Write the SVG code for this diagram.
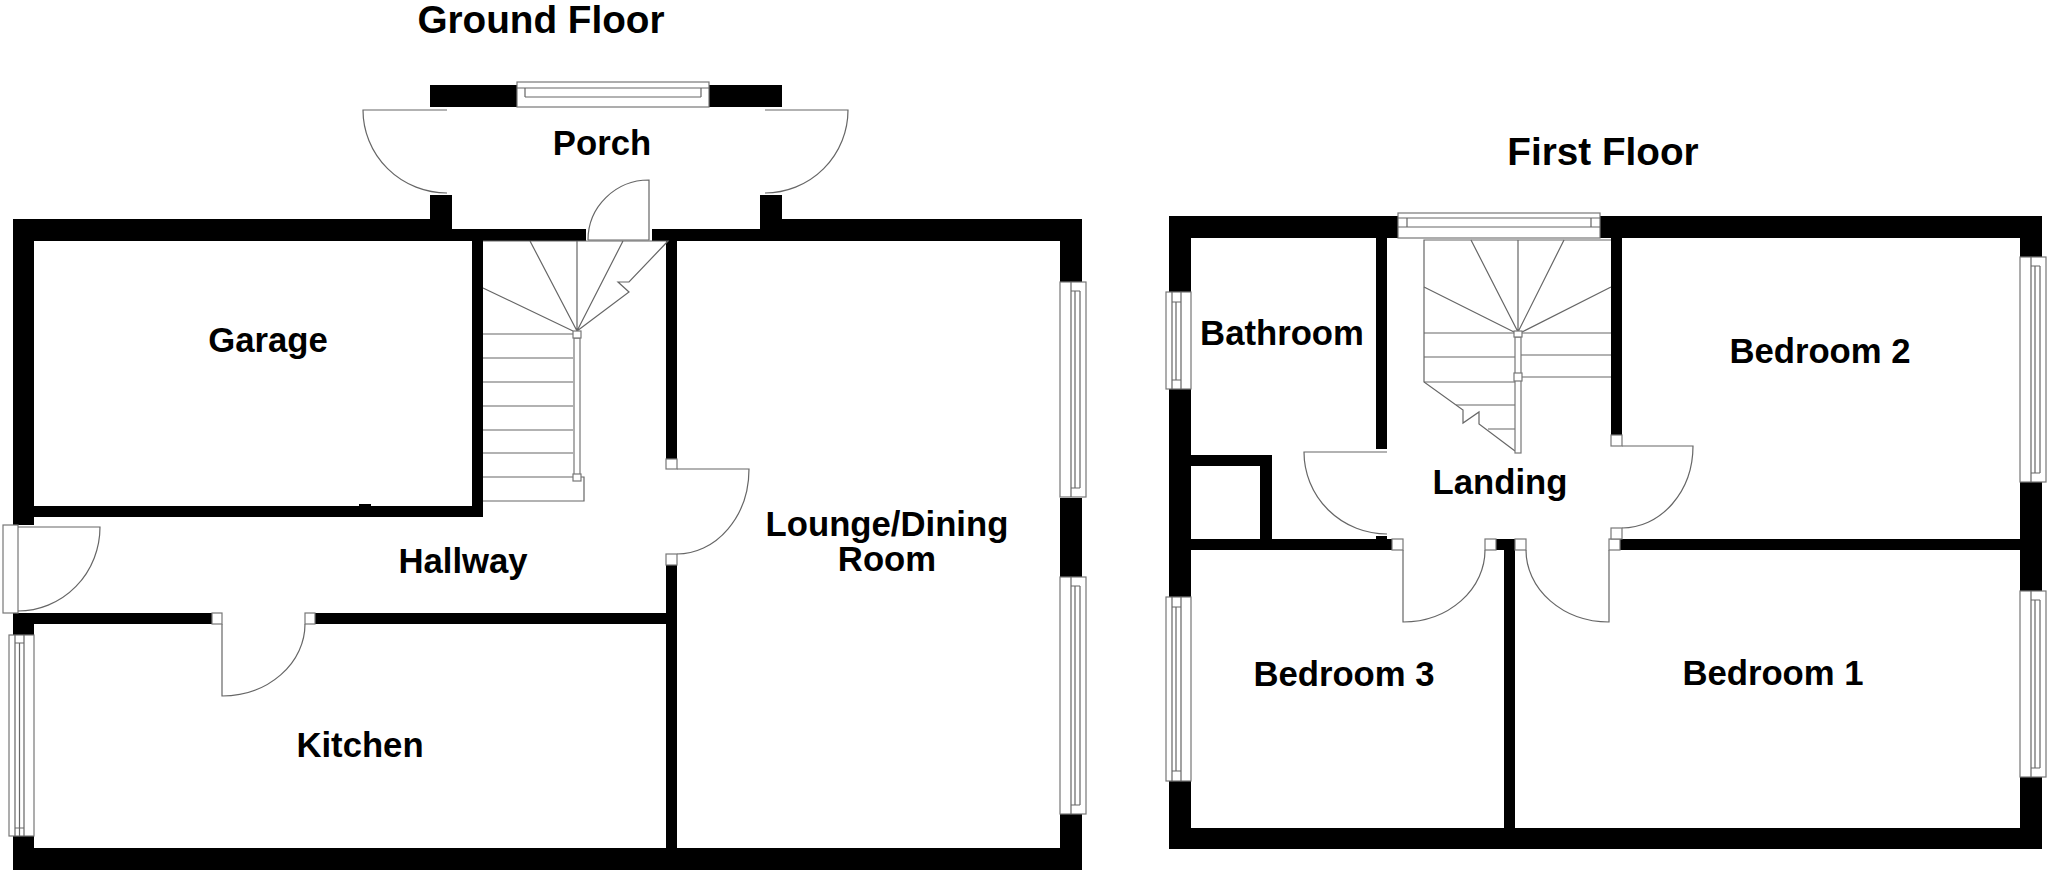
<svg xmlns="http://www.w3.org/2000/svg" width="2048" height="872" viewBox="0 0 2048 872">
<style>
.w{fill:#000}
.o{fill:#fff;stroke:#777;stroke-width:1.2}
.l{fill:none;stroke:#666;stroke-width:1.2}
.t{font-family:"Liberation Sans",Arial,sans-serif;font-weight:700;font-size:34.7px;fill:#000;text-anchor:middle}
.h{font-size:38.7px}
</style>
<rect width="2048" height="872" fill="#fff"/>
<text class="t h" x="541" y="33">Ground Floor</text>
<text class="t h" x="1603" y="165">First Floor</text>
<text class="t" x="602" y="155">Porch</text>
<text class="t" x="268" y="352">Garage</text>
<text class="t" x="463" y="573">Hallway</text>
<text class="t" x="360" y="757">Kitchen</text>
<text class="t" x="887" y="536">Lounge/Dining</text>
<text class="t" x="887" y="571">Room</text>
<text class="t" x="1282" y="345">Bathroom</text>
<text class="t" x="1820" y="363">Bedroom 2</text>
<text class="t" x="1500" y="494">Landing</text>
<text class="t" x="1344" y="686">Bedroom 3</text>
<text class="t" x="1773" y="685">Bedroom 1</text>

<path class="w" d="M430 85H517V107H430ZM709 85H782V107H709ZM430 195H452V229H586V241H483V517H34V525H13V219H430ZM652 229H760V195H782V219H1082V282H1060V241H677V459H666V241H652ZM34 241V506H472V241Z" fill-rule="evenodd"/>
<path class="w" d="M13 613H212V624H34V635H13ZM13 835H34V848H666V565H677V848H1060V814H1082V870H13ZM1060 498H1082V577H1060ZM315 613H666V565H677V624H315ZM359 504H371V506H359Z"/>

<rect class="o" x="517" y="82" width="192" height="25"/>
<path class="l" d="M517 88H709M525 88V97M701 88V97M525 97H701"/>
<rect class="o" x="3" y="525" width="15" height="88"/>
<rect class="o" x="9" y="635" width="25" height="201"/>
<path class="l" d="M15 635V836M19.500 643V836M24 635V836M15 643H24M15 828H24"/>
<rect class="o" x="1060" y="282" width="26" height="215"/>
<path class="l" d="M1071 282V497M1075 291V488M1080 291V488M1071 291H1080M1071 488H1080"/>
<rect class="o" x="1060" y="577" width="26" height="237"/>
<path class="l" d="M1071 577V814M1075 586V805M1080 586V805M1071 586H1080M1071 805H1080"/>

<path class="l" d="M447 110H363A84 83 0 0 0 447 193"/>
<path class="l" d="M765 110H848A83 83 0 0 1 765 193"/>
<path class="l" d="M588 240H649V180A61 60 0 0 0 588 240"/>
<path class="l" d="M18 527H100A82 84 0 0 1 18 611"/>
<path class="l" d="M222 624V696A83 72 0 0 0 305 624"/>
<rect class="o" x="212" y="613" width="10" height="11"/>
<rect class="o" x="305" y="613" width="10" height="11"/>
<path class="l" d="M677 469H749A72 85 0 0 1 677 554"/>
<rect class="o" x="666" y="459" width="11" height="10"/>
<rect class="o" x="666" y="554" width="11" height="11"/>

<path class="l" d="M483 241H668L629 282H618L629 292L577 331M530 241L577 331M577 241V331M623 241L577 331M483 288L573 331"/>
<path class="l" d="M483 334H573M483 358H573M483 382H573M483 406H573M483 430H573M483 453H573M483 477H584V501H483"/>
<rect class="o" x="574" y="338" width="6" height="139"/>
<rect class="o" x="573" y="331" width="8" height="7"/>
<rect class="o" x="573" y="474" width="8" height="7"/>

<path class="w" d="M1169 216H1398V238H1387V449H1376V238H1191V292H1169ZM1169 389H1191V455H1272V539H1392V550H1191V597H1169ZM1191 466V539H1260V466ZM1376 536H1387V539H1376Z" fill-rule="evenodd"/>
<path class="w" d="M1169 781H1191V828H1504V550H1496V539H1515V828H2020V777H2042V849H1169ZM1600 216H2042V257H2020V238H1622V435H1611V238H1600ZM2020 482H2042V591H2020V550H1620V539H2020Z"/>

<rect class="o" x="1398" y="213" width="202" height="25"/>
<path class="l" d="M1398 218H1600M1407 218V227M1591 218V227M1398 227H1600"/>
<rect class="o" x="1166" y="292" width="25" height="97"/>
<path class="l" d="M1172 292V389M1176 302V380M1181 292V389M1172 302H1181M1172 380H1181"/>
<rect class="o" x="1166" y="597" width="25" height="184"/>
<path class="l" d="M1172 597V781M1176 607V771M1181 597V781M1172 607H1181M1172 771H1181"/>
<rect class="o" x="2020" y="257" width="26" height="225"/>
<path class="l" d="M2031 257V482M2035 266V473M2040 266V473M2031 266H2040M2031 473H2040"/>
<rect class="o" x="2020" y="591" width="26" height="186"/>
<path class="l" d="M2031 591V777M2035 600V768M2040 600V768M2031 600H2040M2031 768H2040"/>

<path class="l" d="M1387 452H1304A83 82 0 0 0 1387 534"/>
<path class="l" d="M1403 550V622A82 72 0 0 0 1485 550"/>
<path class="l" d="M1526 550A83 72 0 0 0 1609 622V550"/>
<path class="l" d="M1622 446H1693A71 82 0 0 1 1622 528"/>
<rect class="o" x="1392" y="539" width="11" height="11"/>
<rect class="o" x="1485" y="539" width="11" height="11"/>
<rect class="o" x="1515" y="539" width="11" height="11"/>
<rect class="o" x="1609" y="539" width="11" height="11"/>
<rect class="o" x="1611" y="528" width="11" height="11"/>
<rect class="o" x="1611" y="435" width="11" height="11"/>

<path class="l" d="M1611 240H1424V382L1463 410V423L1479 412V424L1515 451"/>
<path class="l" d="M1471 240L1518 332M1518 240V332M1564 240L1518 332M1424 287L1514 332M1611 287L1522 332"/>
<path class="l" d="M1424 333H1515M1522 333H1611M1424 357H1515M1424 382H1515M1521 355H1611M1521 377H1611M1456 405H1515M1488 429H1515"/>
<rect class="o" x="1515" y="337" width="6" height="116"/>
<rect class="o" x="1514" y="331" width="8" height="6"/>
<rect class="o" x="1514" y="373" width="8" height="8"/>
</svg>
